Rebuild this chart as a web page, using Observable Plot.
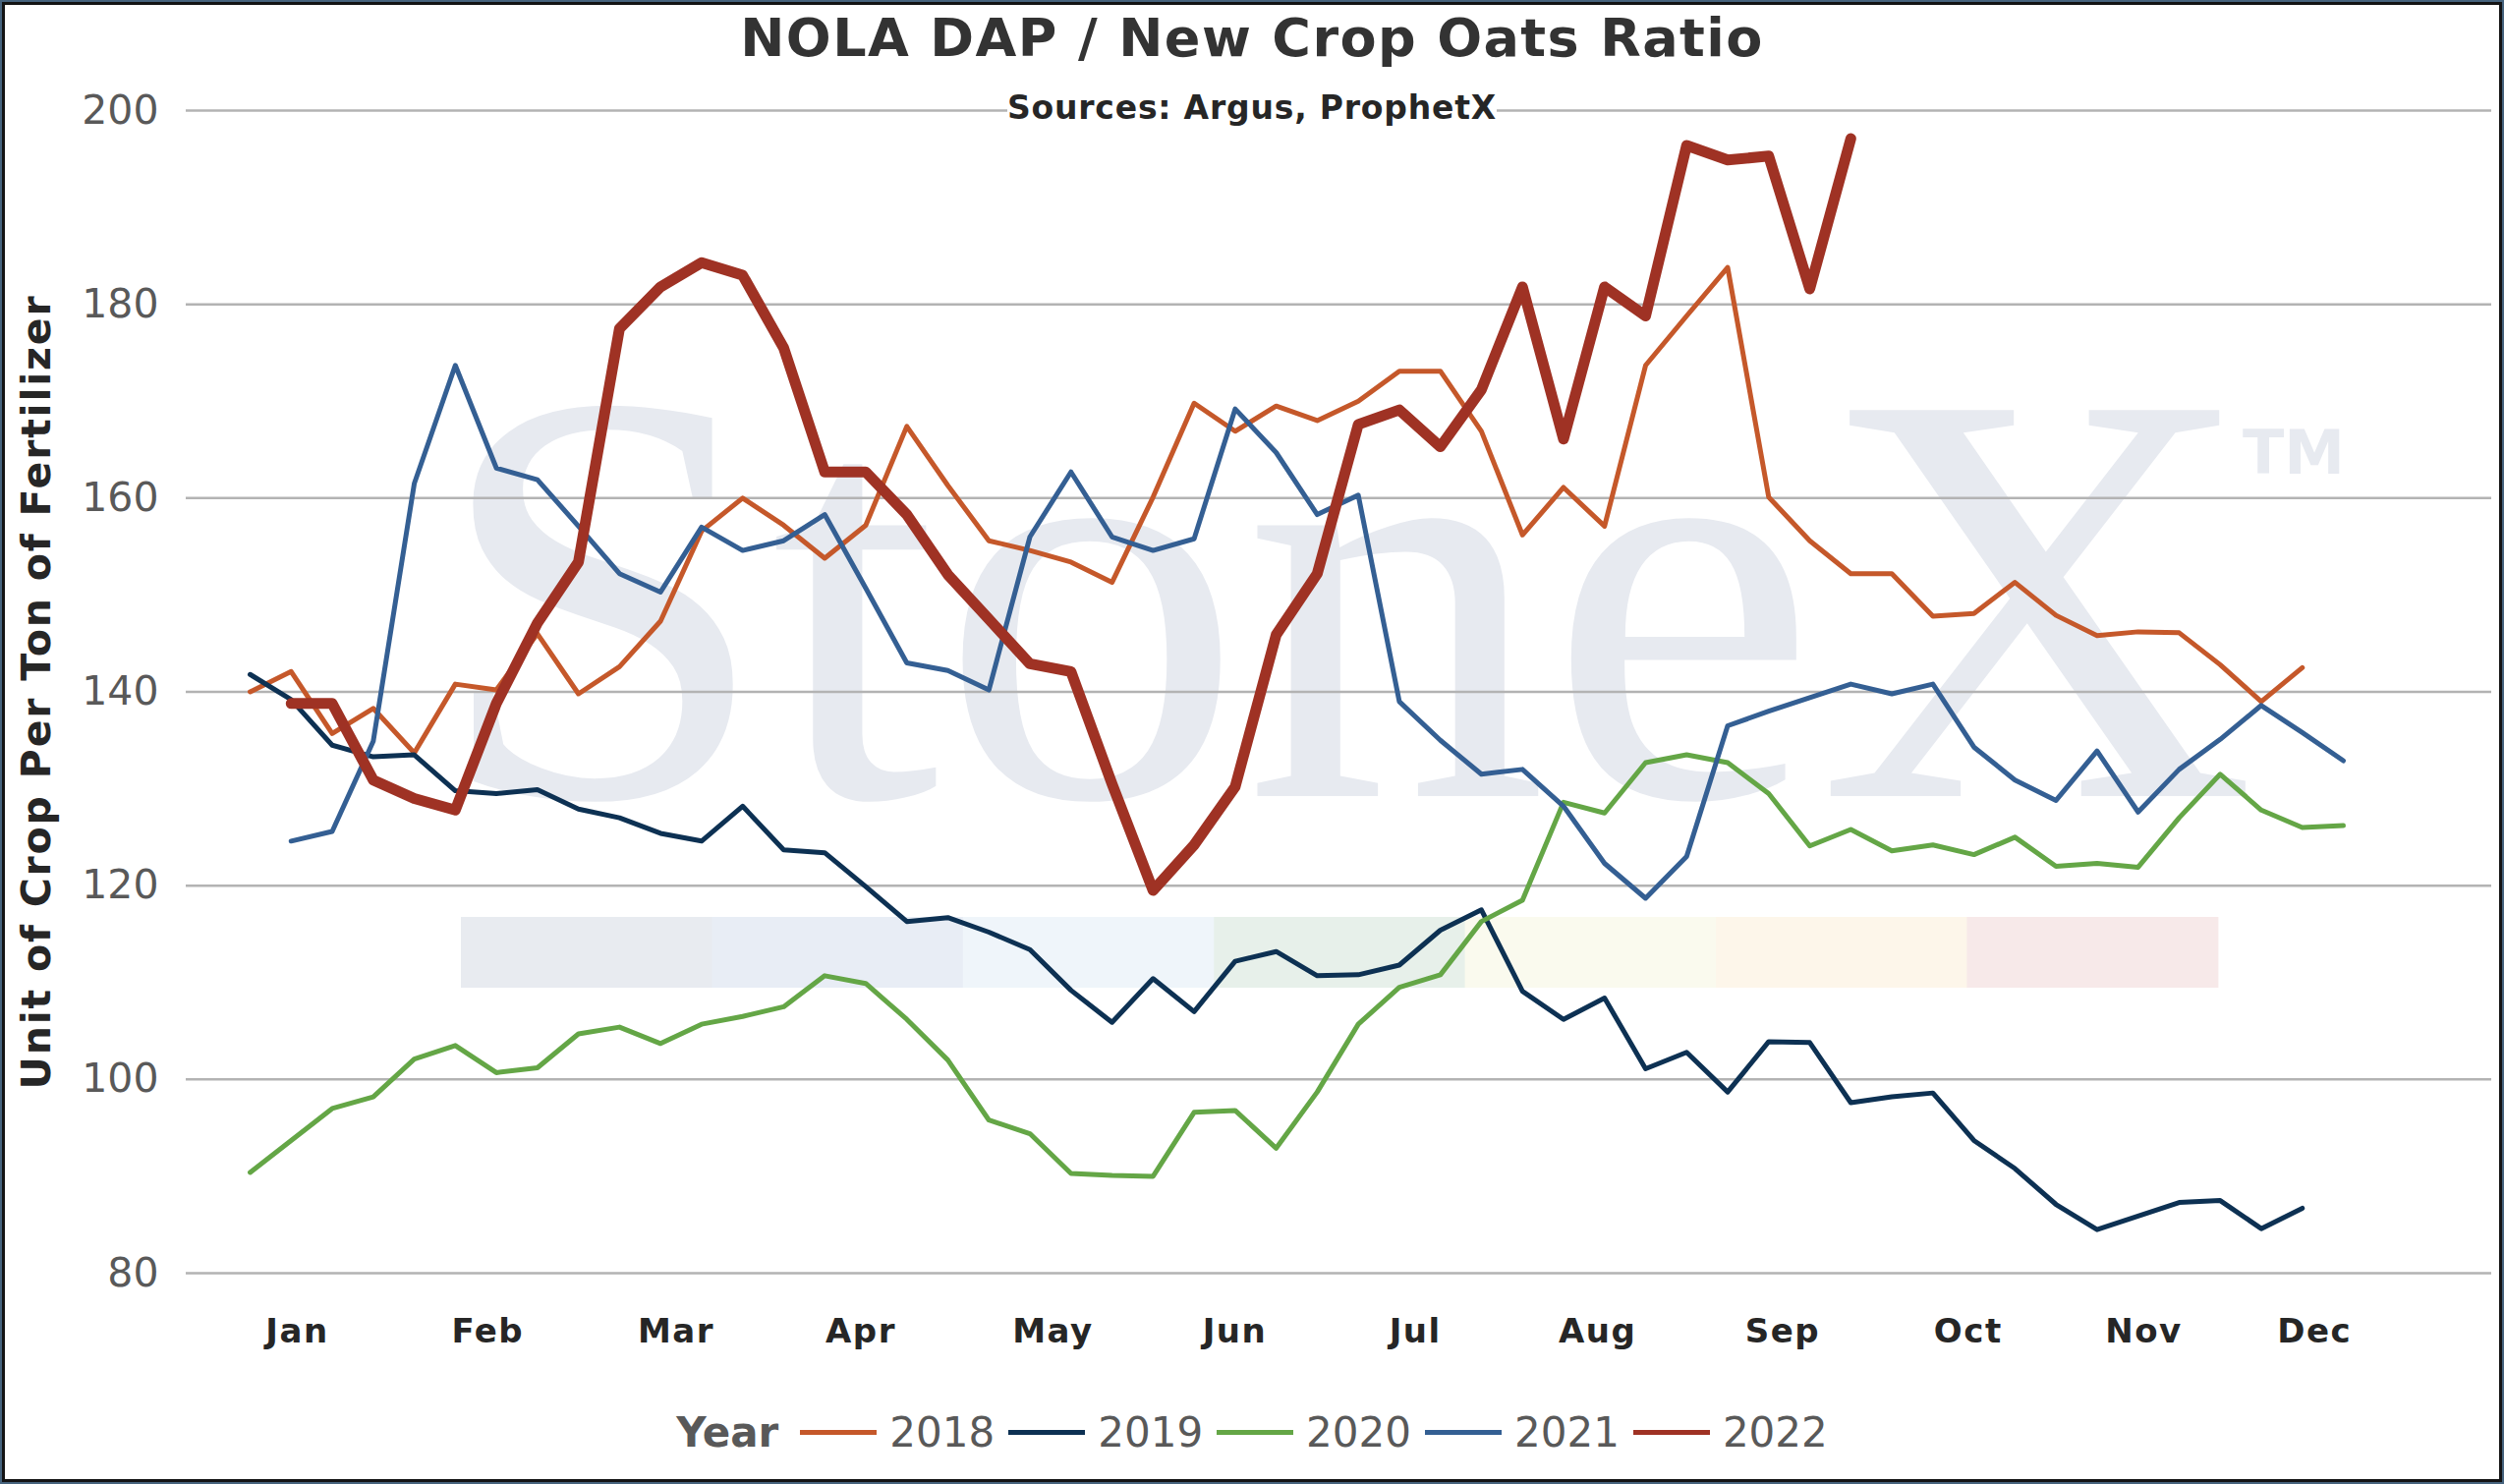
<!DOCTYPE html>
<html><head><meta charset="utf-8">
<script src="https://cdn.jsdelivr.net/npm/d3@7"></script>
<script src="https://cdn.jsdelivr.net/npm/@observablehq/plot@0.6"></script>
<style>
html,body{margin:0;padding:0;background:#fff;}
#page{position:relative;width:2548px;height:1510px;overflow:hidden;background:#fff;font-family:"DejaVu Sans",Verdana,sans-serif;}
#border{position:absolute;left:0;top:0;width:2548px;height:1510px;box-sizing:border-box;border:2px solid #46637d;pointer-events:none;z-index:10}
#border2{position:absolute;left:0;top:0;right:0;bottom:0;border:3px solid #141414;}
#wm{position:absolute;left:0;top:0;z-index:0}
#title{position:absolute;left:0;top:12px;width:2548px;text-align:center;font-weight:bold;font-size:54px;line-height:54px;letter-spacing:1.4px;color:#333;z-index:3;white-space:nowrap}
#sub{position:absolute;left:0;top:93px;width:2548px;text-align:center;z-index:3}
#sub span{display:inline-block;background:#fff;font-weight:bold;font-size:33px;line-height:33px;letter-spacing:0.8px;color:#262626;white-space:nowrap}
#chart{position:absolute;left:0;top:90px;z-index:2}
#legend{position:absolute;left:0;top:1430px;width:2548px;height:54px;display:flex;justify-content:center;align-items:center;z-index:3;color:#595959;font-size:42px;white-space:nowrap}
#legend .ttl{font-weight:bold;margin-right:22px}
#legend .sw{display:inline-block;width:78px;height:5px;margin-right:13px}
#legend .lb{margin-right:14px}
#legend .lb:last-child{margin-right:0}
</style>
</head>
<body>
<div id="page">
  <svg id="wm" width="2548" height="1510"></svg>
  <div id="title">NOLA DAP / New Crop Oats Ratio</div>
  <div id="sub"><span>Sources: Argus, ProphetX</span></div>
  <div id="chart"></div>
  <div id="legend"></div>
  <div id="border"><div id="border2"></div></div>
</div>
<script>
// ---- data ----
const years = ["2018", "2019", "2020", "2021", "2022"];
const colors = ["#c5582a", "#0d3153", "#64a646", "#345f93", "#9f3224"];
const monthNames = ["Jan","Feb","Mar","Apr","May","Jun","Jul","Aug","Sep","Oct","Nov","Dec"];
const monthTicks = [1.15, 5.79, 10.38, 14.88, 19.56, 23.99, 28.39, 32.83, 37.34, 41.86, 46.14, 50.3];
const yTicks = [80, 100, 120, 140, 160, 180, 200];

// weekly values; first value is at the series' start week
const v2018 = [140.0,142.1,135.7,138.3,133.7,140.8,140.2,146.0,139.8,142.6,147.3,
  156.6,160.0,157.2,153.8,157.2,167.4,161.3,155.6,154.6,153.4,151.3,
  160.1,169.8,166.9,169.5,168.0,170.0,173.1,173.1,166.9,156.2,161.1,
  157.1,173.7,178.8,183.8,160.1,155.6,152.2,152.2,147.8,148.1,151.3,
  147.9,145.8,146.2,146.1,142.8,139.0,142.5];
const v2019 = [141.8,139.2,134.5,133.3,133.5,129.8,129.5,129.9,127.9,127.0,125.4,
  124.6,128.2,123.7,123.4,119.9,116.3,116.7,115.2,113.4,109.2,105.9,
  110.4,107.0,112.2,113.2,110.7,110.8,111.8,115.4,117.5,109.1,106.2,
  108.4,101.1,102.8,98.7,103.9,103.8,97.6,98.2,98.6,93.7,90.8,
  87.1,84.5,85.9,87.3,87.5,84.6,86.7];
const v2020 = [90.4,93.7,97.0,98.2,102.1,103.5,100.7,101.2,104.7,105.4,103.7,
  105.7,106.5,107.5,110.7,109.9,106.2,102.0,95.8,94.4,90.3,90.1,
  90.0,96.6,96.8,92.9,98.7,105.7,109.5,110.8,116.3,118.5,128.6,
  127.5,132.7,133.5,132.7,129.5,124.1,125.8,123.6,124.2,123.2,125.0,
  122.0,122.3,121.9,127.0,131.5,127.8,126.0,126.2];
const v2021 = [124.6,125.6,134.9,161.5,173.7,163.1,161.9,157.1,152.2,150.3,
  157.0,154.6,155.6,158.3,150.7,143.0,142.2,140.2,156.0,162.7,156.0,
  154.6,155.8,169.2,164.7,158.3,160.3,139.0,135.0,131.5,132.0,128.2,
  122.3,118.7,123.0,136.5,138.0,139.4,140.8,139.8,140.8,134.3,130.9,
  128.8,133.9,127.6,132.0,135.1,138.6,135.8,132.9];
const v2022 = [138.8,138.8,130.9,129.0,127.8,138.8,147.1,153.4,177.5,181.8,
  184.3,183.0,175.5,162.7,162.7,158.3,152.1,147.5,142.9,142.1,130.5,
  119.5,124.2,130.2,145.9,152.2,167.6,169.1,165.3,171.2,181.8,166.1,
  181.8,178.8,196.4,194.9,195.3,181.6,197.1];
const startWeek = [0, 0, 0, 1, 1];

const series = [v2018, v2019, v2020, v2021, v2022];
const rows = [];
series.forEach((vals, k) => vals.forEach((v, j) => rows.push({year: years[k], week: startWeek[k] + j, value: v})));

// ---- watermark (decorative background) ----
const wm = d3.select("#wm");
const bandColors = ["#e8ebf0","#e8edf5","#eff5fa","#e7f0ea","#fafaee","#fdf6ea","#f7e9e9"];
bandColors.forEach((c, k) => wm.append("rect").attr("x", 469 + k * 255.4).attr("y", 933).attr("width", 256).attr("height", 72).attr("fill", c));
wm.append("text").attr("x", 440).attr("y", 810).attr("font-family", "Liberation Serif").attr("font-size", 600)
  .attr("textLength", 1856).attr("lengthAdjust", "spacingAndGlyphs").attr("fill", "#e7eaf0").text("StoneX");
wm.append("text").attr("x", 2282).attr("y", 482).attr("font-family", "DejaVu Sans").attr("font-weight", "bold").attr("font-size", 62)
  .attr("fill", "#e7eaf0").text("TM");

// ---- chart ----
const chart = Plot.plot({
  width: 2548,
  height: 1310,
  marginTop: 22,
  marginBottom: 105,
  marginLeft: 189,
  marginRight: 13,
  style: {background: "transparent", fontFamily: "DejaVu Sans, Verdana, sans-serif", overflow: "visible"},
  x: {domain: [0, 51], insetLeft: 65, insetRight: 151},
  y: {domain: [80, 200]},
  color: {domain: years, range: colors},
  marks: [
    Plot.gridY(yTicks, {stroke: "#b3b3b3", strokeOpacity: 1, strokeWidth: 2.5}),
    Plot.axisY(yTicks, {tickSize: 0, tickPadding: 28, fontSize: 41, color: "#595959", label: null}),
    Plot.axisX(monthTicks, {tickSize: 0, tickPadding: 46, fontSize: 34, fontWeight: "bold", color: "#262626", label: null,
      tickFormat: d => monthNames[monthTicks.indexOf(d)]}),
    Plot.line(rows.filter(d => d.year !== "2022"), {x: "week", y: "value", z: "year", stroke: "year", strokeWidth: 5,
      strokeLinejoin: "round", strokeLinecap: "round"}),
    Plot.line(rows.filter(d => d.year === "2022"), {x: "week", y: "value", z: "year", stroke: "year", strokeWidth: 11,
      strokeLinejoin: "round", strokeLinecap: "round"}),
    Plot.text(["Unit of Crop Per Ton of Fertilizer"], {text: d => d, frameAnchor: "left", textAnchor: "middle", dx: -152, rotate: -90,
      fontSize: 41, fontWeight: "bold", fill: "#262626"})
  ]
});
document.getElementById("chart").appendChild(chart);
// letter spacing for the bold labels (wider original font)
d3.select(chart).selectAll('g[aria-label="x-axis tick label"] text').style("letter-spacing", "1.5px");
d3.select(chart).selectAll('g[aria-label="text"] text').style("letter-spacing", "1.8px");

// ---- legend ----
const lg = d3.select("#legend");
lg.append("span").attr("class", "ttl").text("Year");
years.forEach((y, k) => {
  lg.append("span").attr("class", "sw").style("background", colors[k]);
  lg.append("span").attr("class", "lb").text(y);
});
</script>
</body></html>
